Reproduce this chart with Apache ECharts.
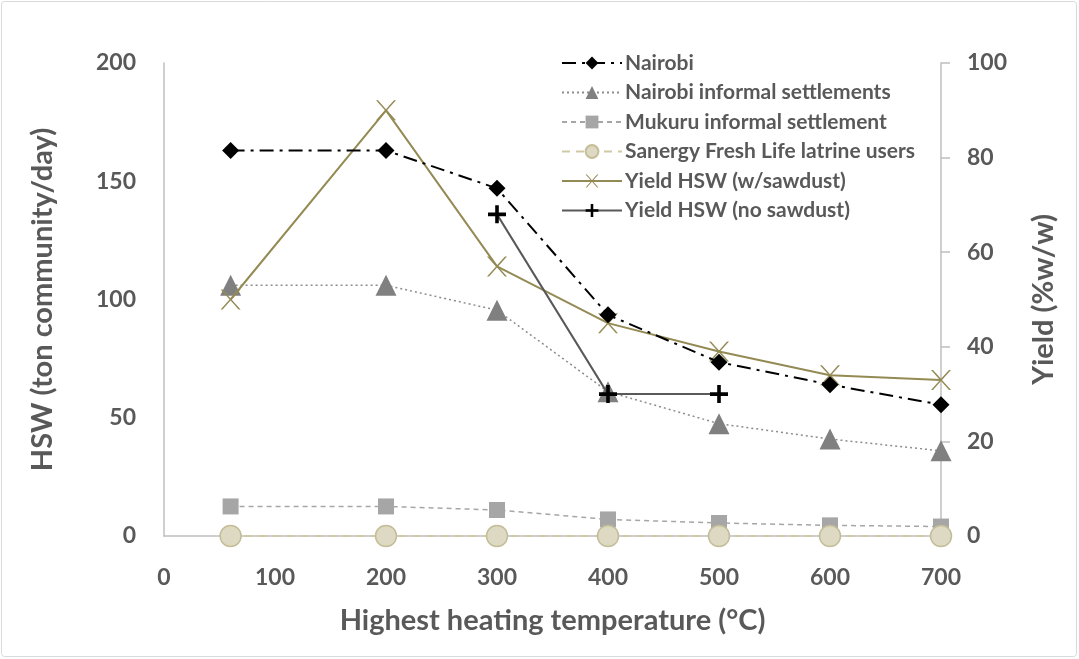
<!DOCTYPE html>
<html><head><meta charset="utf-8">
<script src="https://cdn.jsdelivr.net/npm/echarts@6/dist/echarts.min.js"></script>
<style>html,body{margin:0;padding:0;background:#fff}#c{width:1079px;height:659px}</style>
</head><body><div id="c"></div>
<script>
const temps = [60, 200, 300, 400, 500, 600, 700];
const nairobi = [163, 163, 147, 93.5, 73.5, 64, 55.5];
const nairobiInformal = [106, 106, 95.5, 61, 47.5, 41, 36];
const mukuru = [12.5, 12.5, 11, 7, 5.5, 4.5, 4];
const sanergy = [0, 0, 0, 0, 0, 0, 0];
const yieldSawdust = [50, 90, 57, 45, 39, 34, 33];
const tempsNoSawdust = [300, 400, 500];
const yieldNoSawdust = [68, 30, 30];

const pair = (xs, ys) => xs.map((x, i) => [x, ys[i]]);
const font = 'Lato';
const txt = '#595959';
const crossX = 'path://M0,0 L2,0 L10,8.5 L18,0 L20,0 L11,9.5 L20,19 L18,19 L10,10.5 L2,19 L0,19 L9,9.5 Z';
const plus = 'path://M8,0 L12,0 L12,8 L20,8 L20,12 L12,12 L12,20 L8,20 L8,12 L0,12 L0,8 L8,8 Z';

const chart = echarts.init(document.getElementById('c'));
chart.setOption({
  animation: false,
  textStyle: { fontFamily: font },
  graphic: [{ type: 'rect', shape: { x: 1.5, y: 1.5, width: 1075, height: 655, r: 3 },
    style: { fill: 'none', stroke: '#d9d9d9', lineWidth: 1 }, silent: true }],
  grid: { left: 164, right: 138, top: 63, bottom: 123 },
  legend: {
    orient: 'vertical', left: 556, top: 47, itemWidth: 60, itemHeight: 16, itemGap: 7.5,
    textStyle: { fontFamily: font, fontSize: 21, lineHeight: 22, fontWeight: 'bold', color: txt, padding: [0, 0, 0, -2] },
    data: ['Nairobi', 'Nairobi informal settlements', 'Mukuru informal settlement',
      'Sanergy Fresh Life latrine users', 'Yield HSW (w/sawdust)', 'Yield HSW (no sawdust)']
  },
  xAxis: {
    type: 'value', min: 0, max: 700, interval: 100,
    name: 'Highest heating temperature (°C)', nameLocation: 'middle', nameGap: 70,
    nameTextStyle: { fontFamily: font, fontSize: 29, fontWeight: 'bold', color: txt },
    axisLine: { show: true, lineStyle: { color: '#bfbfbf', width: 1.5 } },
    axisTick: { show: false },
    axisLabel: { fontFamily: font, fontSize: 23, fontWeight: 'bold', color: txt, margin: 30 },
    splitLine: { show: false }
  },
  yAxis: [{
    type: 'value', min: 0, max: 200, interval: 50, position: 'left',
    name: 'HSW (ton community/day)', nameLocation: 'middle', nameGap: 107, nameRotate: 90,
    nameTextStyle: { fontFamily: font, fontSize: 29, fontWeight: 'bold', color: txt },
    axisLine: { show: true, lineStyle: { color: '#bfbfbf', width: 1.5 } },
    axisTick: { show: false },
    axisLabel: { fontFamily: font, fontSize: 23, fontWeight: 'bold', color: txt, margin: 28 },
    splitLine: { show: false }
  }, {
    type: 'value', min: 0, max: 100, interval: 20, position: 'right',
    name: 'Yield (%w/w)', nameLocation: 'middle', nameGap: 88, nameRotate: 90,
    nameTextStyle: { fontFamily: font, fontSize: 29, fontWeight: 'bold', color: txt },
    axisLine: { show: true, lineStyle: { color: '#bfbfbf', width: 1.5 } },
    axisTick: { show: true, length: 9, lineStyle: { color: '#bfbfbf', width: 1.5 } },
    axisLabel: { fontFamily: font, fontSize: 23, fontWeight: 'bold', color: txt, margin: 26 },
    splitLine: { show: false }
  }],
  series: [
    { name: 'Nairobi', type: 'line', yAxisIndex: 0, data: pair(temps, nairobi),
      symbol: 'diamond', symbolSize: 17, itemStyle: { color: '#000' },
      lineStyle: { color: '#000', width: 2, type: [14, 6, 3, 6] }, z: 5 },
    { name: 'Nairobi informal settlements', type: 'line', yAxisIndex: 0, data: pair(temps, nairobiInformal),
      symbol: 'triangle', symbolSize: 21, itemStyle: { color: '#808080' },
      lineStyle: { color: '#8c8c8c', width: 1.5, type: [2, 3] }, z: 3 },
    { name: 'Mukuru informal settlement', type: 'line', yAxisIndex: 0, data: pair(temps, mukuru),
      symbol: 'rect', symbolSize: 16, itemStyle: { color: '#a6a6a6' },
      lineStyle: { color: '#a6a6a6', width: 1.5, type: [5, 4] }, z: 3 },
    { name: 'Sanergy Fresh Life latrine users', type: 'line', yAxisIndex: 0, data: pair(temps, sanergy),
      symbol: 'circle', symbolSize: 21, itemStyle: { color: '#ddd9c3', borderColor: '#c4bd97', borderWidth: 1.5 },
      lineStyle: { color: '#d0c9a6', width: 2, type: [8, 6] }, z: 4 },
    { name: 'Yield HSW (w/sawdust)', type: 'line', yAxisIndex: 1, data: pair(temps, yieldSawdust),
      symbol: crossX, symbolSize: 20, itemStyle: { color: '#948a54' },
      lineStyle: { color: '#948a54', width: 2 }, z: 4 },
    { name: 'Yield HSW (no sawdust)', type: 'line', yAxisIndex: 1, data: pair(tempsNoSawdust, yieldNoSawdust),
      symbol: plus, symbolSize: 18, itemStyle: { color: '#000' },
      lineStyle: { color: '#595959', width: 2 }, z: 6 }
  ]
});
</script></body></html>
